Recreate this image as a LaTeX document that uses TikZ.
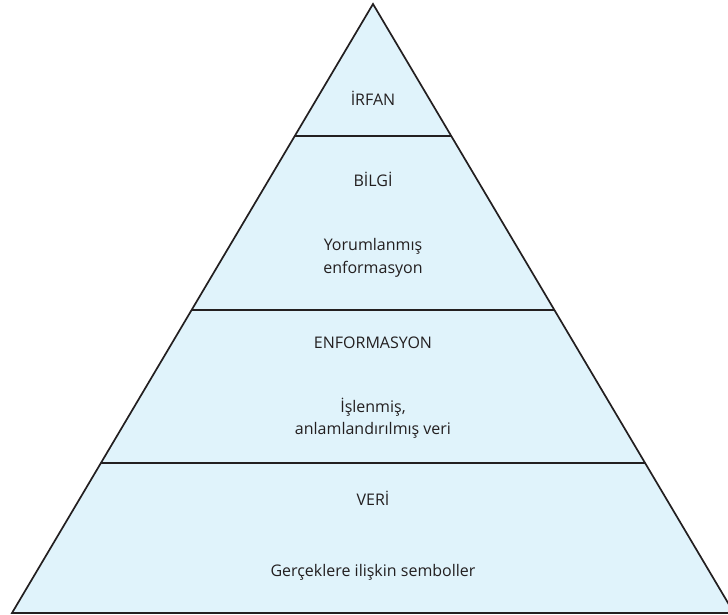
\documentclass[tikz,border=0pt]{standalone}
\usepackage{fontspec}
\setmainfont{Open Sans}
\definecolor{layerfill}{HTML}{E0F3FB}
\definecolor{inkdark}{HTML}{231F20}
\begin{document}
\begin{tikzpicture}[x=1pt,y=-1pt,
  edge/.style={draw=inkdark,line width=1.7pt,line join=miter},
  label/.style={text=inkdark,font=\fontsize{16}{22.5}\selectfont,align=center,inner sep=0pt}]
\useasboundingbox (0,0) rectangle (728,615);
% pyramid corners
\coordinate (apex) at (373,4);
\coordinate (bl) at (12,613);
\coordinate (br) at (734,613);
% level dividers on the left and right edges
\path (apex) -- (bl) coordinate[pos={(136-4)/609}] (a1l) coordinate[pos={(310-4)/609}] (a2l) coordinate[pos={(463-4)/609}] (a3l);
\path (apex) -- (br) coordinate[pos={(136-4)/609}] (a1r) coordinate[pos={(310-4)/609}] (a2r) coordinate[pos={(463-4)/609}] (a3r);
\fill[layerfill] (apex) -- (bl) -- (br) -- cycle;
\draw[edge] (a1l) -- (a1r);
\draw[edge] (a2l) -- (a2r);
\draw[edge] (a3l) -- (a3r);
\draw[edge] (apex) -- (bl) -- (br) -- cycle;
% texts
\node[label] (irfan) at (373,98) {İRFAN};
\node[label] (bilgi) at (373,179) {BİLGİ};
\node[label] (bilgid) at (373,258) {Yorumlanmış\\enformasyon};
\node[label] (enf) at (373,343) {ENFORMASYON};
\node[label] (enfd) at (373,418) {İşlenmiş,\\anlamlandırılmış veri};
\node[label] (veri) at (373,498) {VERİ};
\node[label] (verid) at (373,572) {Gerçeklere ilişkin semboller};
\end{tikzpicture}
\end{document}
